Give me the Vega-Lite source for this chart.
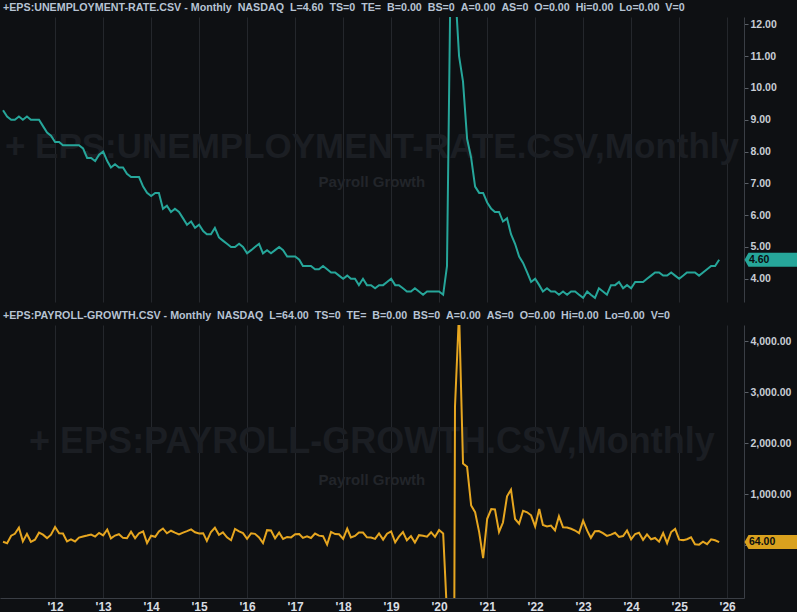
{
  "$schema": "https://vega.github.io/schema/vega-lite/v6.json",
  "background": "#0e1013",
  "padding": {"top": 2, "left": 0, "right": 0, "bottom": 0},
  "spacing": 8,
  "config": {
    "view": {"stroke": null},
    "axis": {
      "gridColor": "#24272c",
      "gridWidth": 1,
      "domainColor": "#3a3e45",
      "tickColor": "#5a5f66",
      "labelColor": "#c8cdd5",
      "labelFont": "Liberation Sans",
      "labelFontWeight": "bold",
      "labelFontSize": 10.5,
      "labelOverlap": false,
      "title": null
    },
    "axisY": {"labelOverlap": false},
    "axisQuantitative": {"labelOverlap": false},
    "title": {
      "font": "Liberation Sans",
      "fontSize": 10.7,
      "fontWeight": "bold",
      "color": "#b7c3d3",
      "anchor": "start",
      "frame": "group",
      "offset": 3,
      "dx": 3
    }
  },
  "data": {
    "values": [
      {"d": "2010-12-01", "u": 9.3, "p": 70},
      {"d": "2011-01-01", "u": 9.1, "p": 42},
      {"d": "2011-02-01", "u": 9.0, "p": 188},
      {"d": "2011-03-01", "u": 9.0, "p": 225},
      {"d": "2011-04-01", "u": 9.1, "p": 346},
      {"d": "2011-05-01", "u": 9.0, "p": 77},
      {"d": "2011-06-01", "u": 9.1, "p": 225},
      {"d": "2011-07-01", "u": 9.0, "p": 69},
      {"d": "2011-08-01", "u": 9.0, "p": 110},
      {"d": "2011-09-01", "u": 9.0, "p": 248},
      {"d": "2011-10-01", "u": 8.8, "p": 209},
      {"d": "2011-11-01", "u": 8.6, "p": 141},
      {"d": "2011-12-01", "u": 8.5, "p": 209},
      {"d": "2012-01-01", "u": 8.3, "p": 358},
      {"d": "2012-02-01", "u": 8.3, "p": 237},
      {"d": "2012-03-01", "u": 8.2, "p": 233},
      {"d": "2012-04-01", "u": 8.2, "p": 78},
      {"d": "2012-05-01", "u": 8.2, "p": 115},
      {"d": "2012-06-01", "u": 8.2, "p": 76},
      {"d": "2012-07-01", "u": 8.2, "p": 151},
      {"d": "2012-08-01", "u": 8.1, "p": 172},
      {"d": "2012-09-01", "u": 7.8, "p": 191},
      {"d": "2012-10-01", "u": 7.8, "p": 212},
      {"d": "2012-11-01", "u": 7.7, "p": 171},
      {"d": "2012-12-01", "u": 7.9, "p": 244},
      {"d": "2013-01-01", "u": 8.0, "p": 196},
      {"d": "2013-02-01", "u": 7.7, "p": 311},
      {"d": "2013-03-01", "u": 7.5, "p": 135},
      {"d": "2013-04-01", "u": 7.6, "p": 192},
      {"d": "2013-05-01", "u": 7.5, "p": 218},
      {"d": "2013-06-01", "u": 7.5, "p": 146},
      {"d": "2013-07-01", "u": 7.3, "p": 140},
      {"d": "2013-08-01", "u": 7.2, "p": 268},
      {"d": "2013-09-01", "u": 7.2, "p": 140},
      {"d": "2013-10-01", "u": 7.2, "p": 237},
      {"d": "2013-11-01", "u": 6.9, "p": 274},
      {"d": "2013-12-01", "u": 6.7, "p": 45},
      {"d": "2014-01-01", "u": 6.6, "p": 188},
      {"d": "2014-02-01", "u": 6.7, "p": 168},
      {"d": "2014-03-01", "u": 6.7, "p": 272},
      {"d": "2014-04-01", "u": 6.2, "p": 330},
      {"d": "2014-05-01", "u": 6.3, "p": 236},
      {"d": "2014-06-01", "u": 6.1, "p": 286},
      {"d": "2014-07-01", "u": 6.2, "p": 249},
      {"d": "2014-08-01", "u": 6.1, "p": 213},
      {"d": "2014-09-01", "u": 5.9, "p": 250},
      {"d": "2014-10-01", "u": 5.7, "p": 278},
      {"d": "2014-11-01", "u": 5.8, "p": 312},
      {"d": "2014-12-01", "u": 5.6, "p": 255},
      {"d": "2015-01-01", "u": 5.7, "p": 234},
      {"d": "2015-02-01", "u": 5.5, "p": 238},
      {"d": "2015-03-01", "u": 5.4, "p": 86},
      {"d": "2015-04-01", "u": 5.4, "p": 262},
      {"d": "2015-05-01", "u": 5.6, "p": 344},
      {"d": "2015-06-01", "u": 5.3, "p": 206},
      {"d": "2015-07-01", "u": 5.2, "p": 254},
      {"d": "2015-08-01", "u": 5.1, "p": 157},
      {"d": "2015-09-01", "u": 5.0, "p": 100},
      {"d": "2015-10-01", "u": 5.0, "p": 321},
      {"d": "2015-11-01", "u": 5.1, "p": 272},
      {"d": "2015-12-01", "u": 5.0, "p": 239},
      {"d": "2016-01-01", "u": 4.8, "p": 126},
      {"d": "2016-02-01", "u": 4.9, "p": 237},
      {"d": "2016-03-01", "u": 5.0, "p": 225},
      {"d": "2016-04-01", "u": 5.1, "p": 153},
      {"d": "2016-05-01", "u": 4.8, "p": 43},
      {"d": "2016-06-01", "u": 4.9, "p": 297},
      {"d": "2016-07-01", "u": 4.8, "p": 291},
      {"d": "2016-08-01", "u": 4.9, "p": 135},
      {"d": "2016-09-01", "u": 5.0, "p": 249},
      {"d": "2016-10-01", "u": 4.9, "p": 124},
      {"d": "2016-11-01", "u": 4.7, "p": 164},
      {"d": "2016-12-01", "u": 4.7, "p": 155},
      {"d": "2017-01-01", "u": 4.7, "p": 216},
      {"d": "2017-02-01", "u": 4.6, "p": 221},
      {"d": "2017-03-01", "u": 4.4, "p": 145},
      {"d": "2017-04-01", "u": 4.4, "p": 175},
      {"d": "2017-05-01", "u": 4.4, "p": 144},
      {"d": "2017-06-01", "u": 4.3, "p": 231},
      {"d": "2017-07-01", "u": 4.3, "p": 190},
      {"d": "2017-08-01", "u": 4.4, "p": 180},
      {"d": "2017-09-01", "u": 4.3, "p": 14},
      {"d": "2017-10-01", "u": 4.2, "p": 262},
      {"d": "2017-11-01", "u": 4.2, "p": 220},
      {"d": "2017-12-01", "u": 4.1, "p": 216},
      {"d": "2018-01-01", "u": 4.0, "p": 125},
      {"d": "2018-02-01", "u": 4.1, "p": 325},
      {"d": "2018-03-01", "u": 4.0, "p": 155},
      {"d": "2018-04-01", "u": 4.0, "p": 185},
      {"d": "2018-05-01", "u": 3.8, "p": 253},
      {"d": "2018-06-01", "u": 4.0, "p": 251},
      {"d": "2018-07-01", "u": 3.8, "p": 157},
      {"d": "2018-08-01", "u": 3.8, "p": 153},
      {"d": "2018-09-01", "u": 3.7, "p": 127},
      {"d": "2018-10-01", "u": 3.8, "p": 233},
      {"d": "2018-11-01", "u": 3.8, "p": 111},
      {"d": "2018-12-01", "u": 3.9, "p": 229},
      {"d": "2019-01-01", "u": 4.0, "p": 274},
      {"d": "2019-02-01", "u": 3.8, "p": 59},
      {"d": "2019-03-01", "u": 3.8, "p": 171},
      {"d": "2019-04-01", "u": 3.7, "p": 259},
      {"d": "2019-05-01", "u": 3.6, "p": 98},
      {"d": "2019-06-01", "u": 3.6, "p": 180},
      {"d": "2019-07-01", "u": 3.7, "p": 55},
      {"d": "2019-08-01", "u": 3.6, "p": 199},
      {"d": "2019-09-01", "u": 3.5, "p": 186},
      {"d": "2019-10-01", "u": 3.6, "p": 170},
      {"d": "2019-11-01", "u": 3.6, "p": 257},
      {"d": "2019-12-01", "u": 3.6, "p": 166},
      {"d": "2020-01-01", "u": 3.6, "p": 301},
      {"d": "2020-02-01", "u": 3.5, "p": 233},
      {"d": "2020-03-01", "u": 4.4, "p": -1337},
      {"d": "2020-04-01", "u": 14.8, "p": -20477},
      {"d": "2020-05-01", "u": 13.2, "p": 2723},
      {"d": "2020-06-01", "u": 11.0, "p": 4583},
      {"d": "2020-07-01", "u": 10.2, "p": 1606},
      {"d": "2020-08-01", "u": 8.4, "p": 1539},
      {"d": "2020-09-01", "u": 7.8, "p": 780},
      {"d": "2020-10-01", "u": 6.9, "p": 650},
      {"d": "2020-11-01", "u": 6.7, "p": 259},
      {"d": "2020-12-01", "u": 6.7, "p": -250},
      {"d": "2021-01-01", "u": 6.4, "p": 520},
      {"d": "2021-02-01", "u": 6.2, "p": 710},
      {"d": "2021-03-01", "u": 6.1, "p": 704},
      {"d": "2021-04-01", "u": 6.1, "p": 263},
      {"d": "2021-05-01", "u": 5.8, "p": 447},
      {"d": "2021-06-01", "u": 5.9, "p": 962},
      {"d": "2021-07-01", "u": 5.4, "p": 1091},
      {"d": "2021-08-01", "u": 5.1, "p": 517},
      {"d": "2021-09-01", "u": 4.7, "p": 424},
      {"d": "2021-10-01", "u": 4.5, "p": 677},
      {"d": "2021-11-01", "u": 4.2, "p": 647},
      {"d": "2021-12-01", "u": 3.9, "p": 588},
      {"d": "2022-01-01", "u": 4.0, "p": 370},
      {"d": "2022-02-01", "u": 3.8, "p": 714},
      {"d": "2022-03-01", "u": 3.6, "p": 398},
      {"d": "2022-04-01", "u": 3.7, "p": 368},
      {"d": "2022-05-01", "u": 3.6, "p": 386},
      {"d": "2022-06-01", "u": 3.6, "p": 293},
      {"d": "2022-07-01", "u": 3.5, "p": 568},
      {"d": "2022-08-01", "u": 3.6, "p": 352},
      {"d": "2022-09-01", "u": 3.5, "p": 350},
      {"d": "2022-10-01", "u": 3.6, "p": 324},
      {"d": "2022-11-01", "u": 3.6, "p": 290},
      {"d": "2022-12-01", "u": 3.5, "p": 239},
      {"d": "2023-01-01", "u": 3.4, "p": 482},
      {"d": "2023-02-01", "u": 3.6, "p": 287},
      {"d": "2023-03-01", "u": 3.5, "p": 146},
      {"d": "2023-04-01", "u": 3.4, "p": 278},
      {"d": "2023-05-01", "u": 3.7, "p": 281},
      {"d": "2023-06-01", "u": 3.6, "p": 240},
      {"d": "2023-07-01", "u": 3.5, "p": 184},
      {"d": "2023-08-01", "u": 3.8, "p": 210},
      {"d": "2023-09-01", "u": 3.8, "p": 246},
      {"d": "2023-10-01", "u": 3.9, "p": 165},
      {"d": "2023-11-01", "u": 3.7, "p": 182},
      {"d": "2023-12-01", "u": 3.8, "p": 290},
      {"d": "2024-01-01", "u": 3.7, "p": 119},
      {"d": "2024-02-01", "u": 3.9, "p": 222},
      {"d": "2024-03-01", "u": 3.9, "p": 246},
      {"d": "2024-04-01", "u": 3.9, "p": 108},
      {"d": "2024-05-01", "u": 4.0, "p": 216},
      {"d": "2024-06-01", "u": 4.1, "p": 118},
      {"d": "2024-07-01", "u": 4.2, "p": 144},
      {"d": "2024-08-01", "u": 4.2, "p": 71},
      {"d": "2024-09-01", "u": 4.1, "p": 240},
      {"d": "2024-10-01", "u": 4.1, "p": 44},
      {"d": "2024-11-01", "u": 4.2, "p": 261},
      {"d": "2024-12-01", "u": 4.1, "p": 323},
      {"d": "2025-01-01", "u": 4.0, "p": 111},
      {"d": "2025-02-01", "u": 4.1, "p": 102},
      {"d": "2025-03-01", "u": 4.2, "p": 120},
      {"d": "2025-04-01", "u": 4.2, "p": 158},
      {"d": "2025-05-01", "u": 4.2, "p": 19},
      {"d": "2025-06-01", "u": 4.1, "p": 13},
      {"d": "2025-07-01", "u": 4.2, "p": 72},
      {"d": "2025-08-01", "u": 4.3, "p": 22},
      {"d": "2025-09-01", "u": 4.4, "p": 119},
      {"d": "2025-10-01", "u": 4.4, "p": 100},
      {"d": "2025-11-01", "u": 4.6, "p": 64}
    ]
  },
  "vconcat": [
    {
      "width": 744,
      "height": 285,
      "title": {"text": "+EPS:UNEMPLOYMENT-RATE.CSV - Monthly \u00a0NASDAQ \u00a0L=4.60 \u00a0TS=0 \u00a0TE= \u00a0B=0.00 \u00a0BS=0 \u00a0A=0.00 \u00a0AS=0 \u00a0O=0.00 \u00a0Hi=0.00 \u00a0Lo=0.00 \u00a0V=0"},
      "layer": [
        {
          "data": {"values": [{}]},
          "mark": {"type": "text", "font": "Liberation Sans", "fontWeight": "bold", "fontSize": 35, "color": "#1b1e23", "align": "center", "baseline": "middle", "text": "+ EPS:UNEMPLOYMENT-RATE.CSV,Monthly"},
          "encoding": {
            "x": {"datum": {"year": 2018, "month": 8, "date": 8}, "type": "temporal",
              "scale": {"domain": [{"year": 2010, "month": 11, "date": 8}, {"year": 2026, "month": 5, "date": 9}]},
              "axis": {"values": [{"year": 2012, "month": 1, "date": 1}, {"year": 2013, "month": 1, "date": 1}, {"year": 2014, "month": 1, "date": 1}, {"year": 2015, "month": 1, "date": 1}, {"year": 2016, "month": 1, "date": 1}, {"year": 2017, "month": 1, "date": 1}, {"year": 2018, "month": 1, "date": 1}, {"year": 2019, "month": 1, "date": 1}, {"year": 2020, "month": 1, "date": 1}, {"year": 2021, "month": 1, "date": 1}, {"year": 2022, "month": 1, "date": 1}, {"year": 2023, "month": 1, "date": 1}, {"year": 2024, "month": 1, "date": 1}, {"year": 2025, "month": 1, "date": 1}, {"year": 2026, "month": 1, "date": 1}], "labels": false, "ticks": false, "domain": false, "grid": true}},
            "y": {"datum": 8.14, "type": "quantitative",
              "scale": {"domain": [3.27, 12.23], "nice": false, "zero": false},
              "axis": {"orient": "right", "values": [4, 5, 6, 7, 8, 9, 10, 11, 12], "format": ".2f", "tickSize": 4, "labelPadding": 2, "labelOverlap": false, "domain": true}}
          }
        },
        {
          "data": {"values": [{}]},
          "mark": {"type": "text", "font": "Liberation Sans", "fontWeight": "bold", "fontSize": 15, "color": "#22252a", "align": "center", "baseline": "middle", "text": "Payroll Growth"},
          "encoding": {
            "x": {"datum": {"year": 2018, "month": 8, "date": 8}, "type": "temporal",
              "scale": {"domain": [{"year": 2010, "month": 11, "date": 8}, {"year": 2026, "month": 5, "date": 9}]},
              "axis": {"values": [{"year": 2012, "month": 1, "date": 1}, {"year": 2013, "month": 1, "date": 1}, {"year": 2014, "month": 1, "date": 1}, {"year": 2015, "month": 1, "date": 1}, {"year": 2016, "month": 1, "date": 1}, {"year": 2017, "month": 1, "date": 1}, {"year": 2018, "month": 1, "date": 1}, {"year": 2019, "month": 1, "date": 1}, {"year": 2020, "month": 1, "date": 1}, {"year": 2021, "month": 1, "date": 1}, {"year": 2022, "month": 1, "date": 1}, {"year": 2023, "month": 1, "date": 1}, {"year": 2024, "month": 1, "date": 1}, {"year": 2025, "month": 1, "date": 1}, {"year": 2026, "month": 1, "date": 1}], "labels": false, "ticks": false, "domain": false, "grid": true}},
            "y": {"datum": 7.04, "type": "quantitative",
              "scale": {"domain": [3.27, 12.23], "nice": false, "zero": false},
              "axis": {"orient": "right", "values": [4, 5, 6, 7, 8, 9, 10, 11, 12], "format": ".2f", "tickSize": 4, "labelPadding": 2, "labelOverlap": false, "domain": true}}
          }
        },
        {
          "mark": {"type": "line", "color": "#26a69a", "strokeWidth": 2, "clip": true},
          "encoding": {
            "x": {"field": "d", "type": "temporal",
              "scale": {"domain": [{"year": 2010, "month": 11, "date": 8}, {"year": 2026, "month": 5, "date": 9}]},
              "axis": {"values": [{"year": 2012, "month": 1, "date": 1}, {"year": 2013, "month": 1, "date": 1}, {"year": 2014, "month": 1, "date": 1}, {"year": 2015, "month": 1, "date": 1}, {"year": 2016, "month": 1, "date": 1}, {"year": 2017, "month": 1, "date": 1}, {"year": 2018, "month": 1, "date": 1}, {"year": 2019, "month": 1, "date": 1}, {"year": 2020, "month": 1, "date": 1}, {"year": 2021, "month": 1, "date": 1}, {"year": 2022, "month": 1, "date": 1}, {"year": 2023, "month": 1, "date": 1}, {"year": 2024, "month": 1, "date": 1}, {"year": 2025, "month": 1, "date": 1}, {"year": 2026, "month": 1, "date": 1}], "labels": false, "ticks": false, "domain": false, "grid": true}},
            "y": {"field": "u", "type": "quantitative",
              "scale": {"domain": [3.27, 12.23], "nice": false, "zero": false},
              "axis": {"orient": "right", "values": [4, 5, 6, 7, 8, 9, 10, 11, 12], "format": ".2f", "tickSize": 4, "labelPadding": 2, "labelOverlap": false, "domain": true}}
          }
        },
        {
          "data": {"values": [{}]},
          "mark": {"type": "point", "filled": true, "opacity": 1, "color": "#26a69a", "size": 2500, "clip": false, "shape": "M 0.02 0 L 0.18 -0.28 L 2.2 -0.28 L 2.2 0.28 L 0.18 0.28 Z"},
          "encoding": {
            "x": {"datum": {"year": 2026, "month": 5, "date": 9}, "type": "temporal",
              "scale": {"domain": [{"year": 2010, "month": 11, "date": 8}, {"year": 2026, "month": 5, "date": 9}]},
              "axis": {"values": [{"year": 2012, "month": 1, "date": 1}, {"year": 2013, "month": 1, "date": 1}, {"year": 2014, "month": 1, "date": 1}, {"year": 2015, "month": 1, "date": 1}, {"year": 2016, "month": 1, "date": 1}, {"year": 2017, "month": 1, "date": 1}, {"year": 2018, "month": 1, "date": 1}, {"year": 2019, "month": 1, "date": 1}, {"year": 2020, "month": 1, "date": 1}, {"year": 2021, "month": 1, "date": 1}, {"year": 2022, "month": 1, "date": 1}, {"year": 2023, "month": 1, "date": 1}, {"year": 2024, "month": 1, "date": 1}, {"year": 2025, "month": 1, "date": 1}, {"year": 2026, "month": 1, "date": 1}], "labels": false, "ticks": false, "domain": false, "grid": true}},
            "y": {"datum": 4.6, "type": "quantitative",
              "scale": {"domain": [3.27, 12.23], "nice": false, "zero": false},
              "axis": {"orient": "right", "values": [4, 5, 6, 7, 8, 9, 10, 11, 12], "format": ".2f", "tickSize": 4, "labelPadding": 2, "labelOverlap": false, "domain": true}}
          }
        },
        {
          "data": {"values": [{}]},
          "mark": {"type": "text", "font": "Liberation Sans", "fontWeight": "bold", "fontSize": 10.5, "color": "#0b0d10", "align": "left", "baseline": "middle", "dx": 5, "clip": false, "text": "4.60"},
          "encoding": {
            "x": {"datum": {"year": 2026, "month": 5, "date": 9}, "type": "temporal",
              "scale": {"domain": [{"year": 2010, "month": 11, "date": 8}, {"year": 2026, "month": 5, "date": 9}]},
              "axis": {"values": [{"year": 2012, "month": 1, "date": 1}, {"year": 2013, "month": 1, "date": 1}, {"year": 2014, "month": 1, "date": 1}, {"year": 2015, "month": 1, "date": 1}, {"year": 2016, "month": 1, "date": 1}, {"year": 2017, "month": 1, "date": 1}, {"year": 2018, "month": 1, "date": 1}, {"year": 2019, "month": 1, "date": 1}, {"year": 2020, "month": 1, "date": 1}, {"year": 2021, "month": 1, "date": 1}, {"year": 2022, "month": 1, "date": 1}, {"year": 2023, "month": 1, "date": 1}, {"year": 2024, "month": 1, "date": 1}, {"year": 2025, "month": 1, "date": 1}, {"year": 2026, "month": 1, "date": 1}], "labels": false, "ticks": false, "domain": false, "grid": true}},
            "y": {"datum": 4.6, "type": "quantitative",
              "scale": {"domain": [3.27, 12.23], "nice": false, "zero": false},
              "axis": {"orient": "right", "values": [4, 5, 6, 7, 8, 9, 10, 11, 12], "format": ".2f", "tickSize": 4, "labelPadding": 2, "labelOverlap": false, "domain": true}}
          }
        }
      ]
    },
    {
      "width": 744,
      "height": 273,
      "title": {"text": "+EPS:PAYROLL-GROWTH.CSV - Monthly \u00a0NASDAQ \u00a0L=64.00 \u00a0TS=0 \u00a0TE= \u00a0B=0.00 \u00a0BS=0 \u00a0A=0.00 \u00a0AS=0 \u00a0O=0.00 \u00a0Hi=0.00 \u00a0Lo=0.00 \u00a0V=0"},
      "layer": [
        {
          "data": {"values": [{}]},
          "mark": {"type": "text", "font": "Liberation Sans", "fontWeight": "bold", "fontSize": 36, "color": "#1b1e23", "align": "center", "baseline": "middle", "text": "+ EPS:PAYROLL-GROWTH.CSV,Monthly"},
          "encoding": {
            "x": {"datum": {"year": 2018, "month": 8, "date": 8}, "type": "temporal",
              "scale": {"domain": [{"year": 2010, "month": 11, "date": 8}, {"year": 2026, "month": 5, "date": 9}]},
              "axis": {"values": [{"year": 2012, "month": 1, "date": 1}, {"year": 2013, "month": 1, "date": 1}, {"year": 2014, "month": 1, "date": 1}, {"year": 2015, "month": 1, "date": 1}, {"year": 2016, "month": 1, "date": 1}, {"year": 2017, "month": 1, "date": 1}, {"year": 2018, "month": 1, "date": 1}, {"year": 2019, "month": 1, "date": 1}, {"year": 2020, "month": 1, "date": 1}, {"year": 2021, "month": 1, "date": 1}, {"year": 2022, "month": 1, "date": 1}, {"year": 2023, "month": 1, "date": 1}, {"year": 2024, "month": 1, "date": 1}, {"year": 2025, "month": 1, "date": 1}, {"year": 2026, "month": 1, "date": 1}], "format": "'%y", "labelFontSize": 12, "labelColor": "#d8dce2", "labelPadding": 3, "ticks": false, "domain": true, "grid": true}},
            "y": {"datum": 2026, "type": "quantitative",
              "scale": {"domain": [-1033, 4320], "nice": false, "zero": false},
              "axis": {"orient": "right", "values": [0, 1000, 2000, 3000, 4000], "format": ",.2f", "tickSize": 4, "labelPadding": 2, "labelOverlap": false, "domain": true}}
          }
        },
        {
          "data": {"values": [{}]},
          "mark": {"type": "text", "font": "Liberation Sans", "fontWeight": "bold", "fontSize": 15, "color": "#22252a", "align": "center", "baseline": "middle", "text": "Payroll Growth"},
          "encoding": {
            "x": {"datum": {"year": 2018, "month": 8, "date": 8}, "type": "temporal",
              "scale": {"domain": [{"year": 2010, "month": 11, "date": 8}, {"year": 2026, "month": 5, "date": 9}]},
              "axis": {"values": [{"year": 2012, "month": 1, "date": 1}, {"year": 2013, "month": 1, "date": 1}, {"year": 2014, "month": 1, "date": 1}, {"year": 2015, "month": 1, "date": 1}, {"year": 2016, "month": 1, "date": 1}, {"year": 2017, "month": 1, "date": 1}, {"year": 2018, "month": 1, "date": 1}, {"year": 2019, "month": 1, "date": 1}, {"year": 2020, "month": 1, "date": 1}, {"year": 2021, "month": 1, "date": 1}, {"year": 2022, "month": 1, "date": 1}, {"year": 2023, "month": 1, "date": 1}, {"year": 2024, "month": 1, "date": 1}, {"year": 2025, "month": 1, "date": 1}, {"year": 2026, "month": 1, "date": 1}], "format": "'%y", "labelFontSize": 12, "labelColor": "#d8dce2", "labelPadding": 3, "ticks": false, "domain": true, "grid": true}},
            "y": {"datum": 1281, "type": "quantitative",
              "scale": {"domain": [-1033, 4320], "nice": false, "zero": false},
              "axis": {"orient": "right", "values": [0, 1000, 2000, 3000, 4000], "format": ",.2f", "tickSize": 4, "labelPadding": 2, "labelOverlap": false, "domain": true}}
          }
        },
        {
          "mark": {"type": "line", "color": "#e6a620", "strokeWidth": 2, "clip": true},
          "encoding": {
            "x": {"field": "d", "type": "temporal",
              "scale": {"domain": [{"year": 2010, "month": 11, "date": 8}, {"year": 2026, "month": 5, "date": 9}]},
              "axis": {"values": [{"year": 2012, "month": 1, "date": 1}, {"year": 2013, "month": 1, "date": 1}, {"year": 2014, "month": 1, "date": 1}, {"year": 2015, "month": 1, "date": 1}, {"year": 2016, "month": 1, "date": 1}, {"year": 2017, "month": 1, "date": 1}, {"year": 2018, "month": 1, "date": 1}, {"year": 2019, "month": 1, "date": 1}, {"year": 2020, "month": 1, "date": 1}, {"year": 2021, "month": 1, "date": 1}, {"year": 2022, "month": 1, "date": 1}, {"year": 2023, "month": 1, "date": 1}, {"year": 2024, "month": 1, "date": 1}, {"year": 2025, "month": 1, "date": 1}, {"year": 2026, "month": 1, "date": 1}], "format": "'%y", "labelFontSize": 12, "labelColor": "#d8dce2", "labelPadding": 3, "ticks": false, "domain": true, "grid": true}},
            "y": {"field": "p", "type": "quantitative",
              "scale": {"domain": [-1033, 4320], "nice": false, "zero": false},
              "axis": {"orient": "right", "values": [0, 1000, 2000, 3000, 4000], "format": ",.2f", "tickSize": 4, "labelPadding": 2, "labelOverlap": false, "domain": true}}
          }
        },
        {
          "data": {"values": [{}]},
          "mark": {"type": "point", "filled": true, "opacity": 1, "color": "#d9a11e", "size": 2500, "clip": false, "shape": "M 0.02 0 L 0.18 -0.28 L 2.2 -0.28 L 2.2 0.28 L 0.18 0.28 Z"},
          "encoding": {
            "x": {"datum": {"year": 2026, "month": 5, "date": 9}, "type": "temporal",
              "scale": {"domain": [{"year": 2010, "month": 11, "date": 8}, {"year": 2026, "month": 5, "date": 9}]},
              "axis": {"values": [{"year": 2012, "month": 1, "date": 1}, {"year": 2013, "month": 1, "date": 1}, {"year": 2014, "month": 1, "date": 1}, {"year": 2015, "month": 1, "date": 1}, {"year": 2016, "month": 1, "date": 1}, {"year": 2017, "month": 1, "date": 1}, {"year": 2018, "month": 1, "date": 1}, {"year": 2019, "month": 1, "date": 1}, {"year": 2020, "month": 1, "date": 1}, {"year": 2021, "month": 1, "date": 1}, {"year": 2022, "month": 1, "date": 1}, {"year": 2023, "month": 1, "date": 1}, {"year": 2024, "month": 1, "date": 1}, {"year": 2025, "month": 1, "date": 1}, {"year": 2026, "month": 1, "date": 1}], "format": "'%y", "labelFontSize": 12, "labelColor": "#d8dce2", "labelPadding": 3, "ticks": false, "domain": true, "grid": true}},
            "y": {"datum": 64, "type": "quantitative",
              "scale": {"domain": [-1033, 4320], "nice": false, "zero": false},
              "axis": {"orient": "right", "values": [0, 1000, 2000, 3000, 4000], "format": ",.2f", "tickSize": 4, "labelPadding": 2, "labelOverlap": false, "domain": true}}
          }
        },
        {
          "data": {"values": [{}]},
          "mark": {"type": "text", "font": "Liberation Sans", "fontWeight": "bold", "fontSize": 10.5, "color": "#0b0d10", "align": "left", "baseline": "middle", "dx": 5, "clip": false, "text": "64.00"},
          "encoding": {
            "x": {"datum": {"year": 2026, "month": 5, "date": 9}, "type": "temporal",
              "scale": {"domain": [{"year": 2010, "month": 11, "date": 8}, {"year": 2026, "month": 5, "date": 9}]},
              "axis": {"values": [{"year": 2012, "month": 1, "date": 1}, {"year": 2013, "month": 1, "date": 1}, {"year": 2014, "month": 1, "date": 1}, {"year": 2015, "month": 1, "date": 1}, {"year": 2016, "month": 1, "date": 1}, {"year": 2017, "month": 1, "date": 1}, {"year": 2018, "month": 1, "date": 1}, {"year": 2019, "month": 1, "date": 1}, {"year": 2020, "month": 1, "date": 1}, {"year": 2021, "month": 1, "date": 1}, {"year": 2022, "month": 1, "date": 1}, {"year": 2023, "month": 1, "date": 1}, {"year": 2024, "month": 1, "date": 1}, {"year": 2025, "month": 1, "date": 1}, {"year": 2026, "month": 1, "date": 1}], "format": "'%y", "labelFontSize": 12, "labelColor": "#d8dce2", "labelPadding": 3, "ticks": false, "domain": true, "grid": true}},
            "y": {"datum": 64, "type": "quantitative",
              "scale": {"domain": [-1033, 4320], "nice": false, "zero": false},
              "axis": {"orient": "right", "values": [0, 1000, 2000, 3000, 4000], "format": ",.2f", "tickSize": 4, "labelPadding": 2, "labelOverlap": false, "domain": true}}
          }
        }
      ]
    }
  ]
}
